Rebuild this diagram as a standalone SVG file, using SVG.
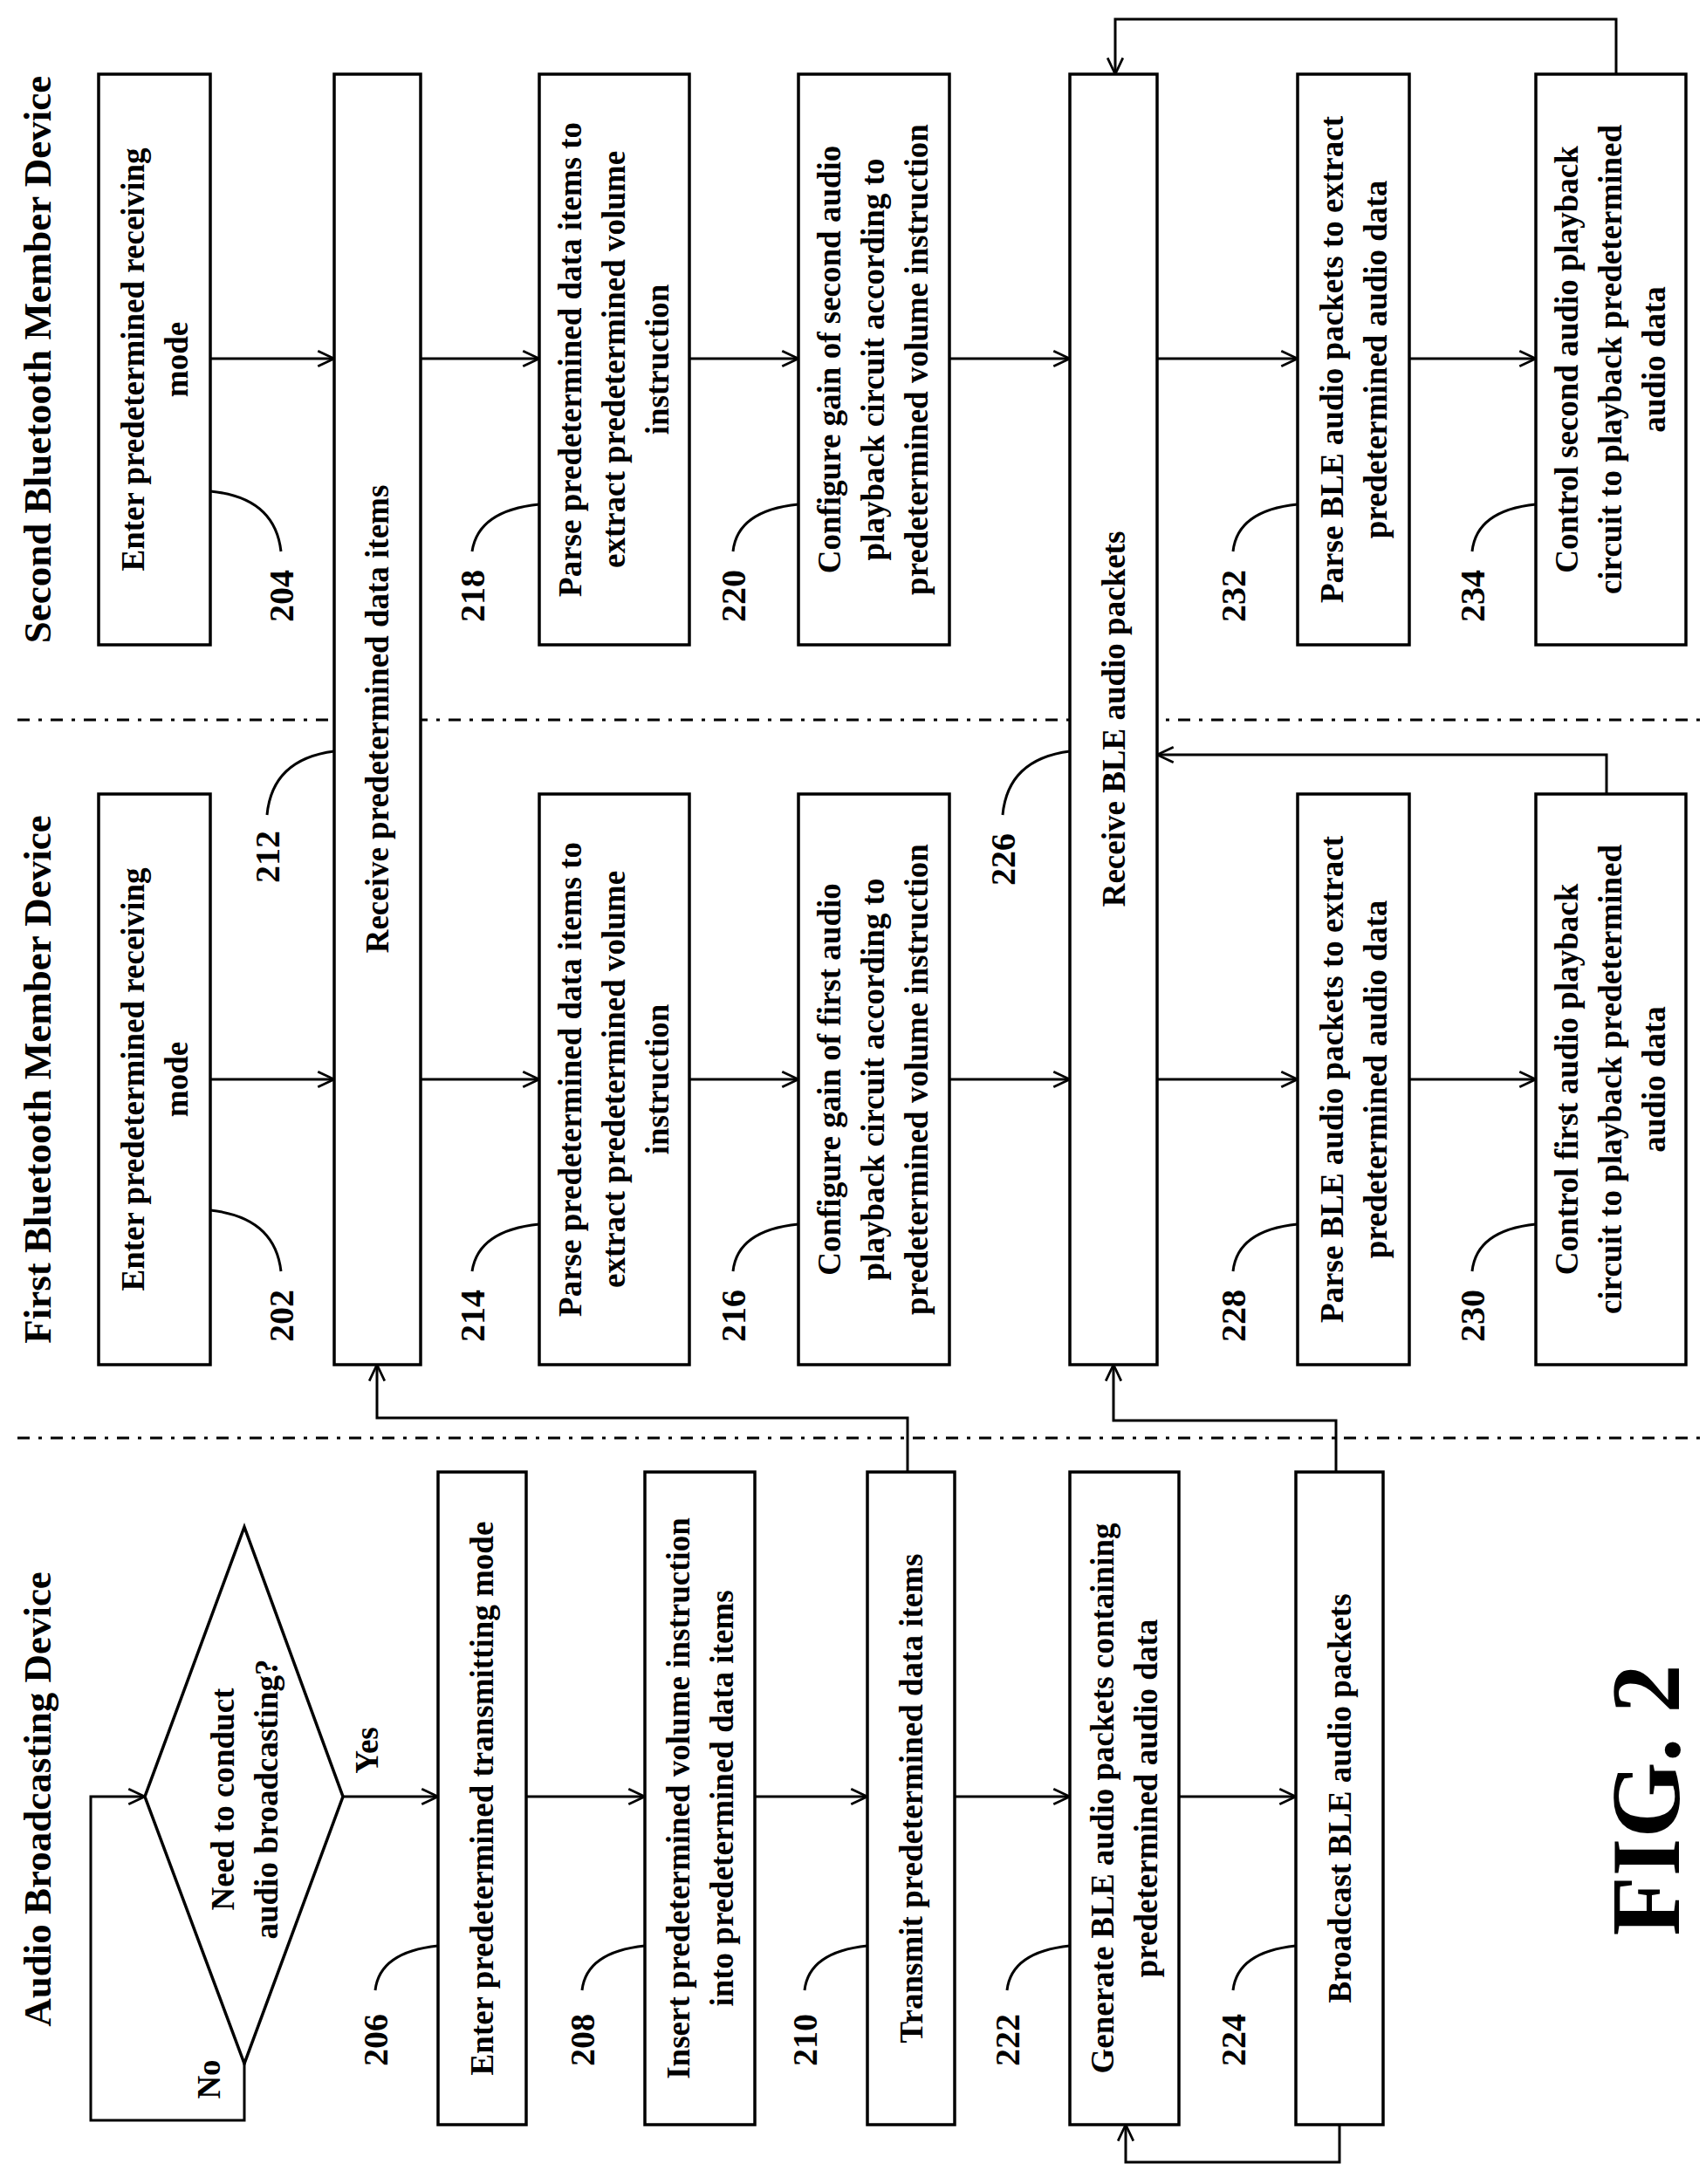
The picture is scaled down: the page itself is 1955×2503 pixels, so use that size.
<svg xmlns="http://www.w3.org/2000/svg" width="1955" height="2503" viewBox="0 0 1955 2503">
<defs>
<marker id="ah" viewBox="0 0 20 20" refX="19" refY="10" markerWidth="22" markerHeight="22" markerUnits="userSpaceOnUse" orient="auto"><path d="M2,2 L19,10 L2,18" fill="none" stroke="#000" stroke-width="2.5"/></marker>
</defs>
<style>
.b{fill:#fff;stroke:#000;stroke-width:3.5}
.t{font-family:"Liberation Serif",serif;font-weight:bold;font-size:37px;text-anchor:middle;fill:#000}
.h{font-family:"Liberation Serif",serif;font-weight:bold;font-size:45px;text-anchor:middle;fill:#000}
.l{font-family:"Liberation Serif",serif;font-weight:bold;font-size:40px;text-anchor:middle;fill:#000}
.c{fill:none;stroke:#000;stroke-width:3}
.a{fill:none;stroke:#000;stroke-width:3;marker-end:url(#ah)}
.s{fill:none;stroke:#000;stroke-width:3;stroke-dasharray:14 10 4 10}
</style>
<rect width="1955" height="2503" fill="#fff"/>
<g id="separators">
<line class="s" x1="20" y1="825" x2="1955" y2="825"/>
<line class="s" x1="20" y1="1648" x2="1955" y2="1648"/>
</g>
<g id="titles">
<text class="h" transform="translate(58,412) rotate(-90)">Second Bluetooth Member Device</text>
<text class="h" transform="translate(58,1237) rotate(-90)">First Bluetooth Member Device</text>
<text class="h" transform="translate(58,2062) rotate(-90)">Audio Broadcasting Device</text>
<text font-family="Liberation Serif,serif" font-weight="bold" font-size="112" text-anchor="middle" transform="translate(1924,2063) rotate(-90)">FIG. 2</text>
</g>
<g id="connectors">
<line class="a" x1="241" y1="411" x2="383" y2="411"/>
<line class="a" x1="482" y1="411" x2="618" y2="411"/>
<line class="a" x1="790" y1="411" x2="915" y2="411"/>
<line class="a" x1="1088" y1="411" x2="1226" y2="411"/>
<line class="a" x1="1326" y1="411" x2="1487" y2="411"/>
<line class="a" x1="1615" y1="411" x2="1760" y2="411"/>
<line class="a" x1="241" y1="1237" x2="383" y2="1237"/>
<line class="a" x1="482" y1="1237" x2="618" y2="1237"/>
<line class="a" x1="790" y1="1237" x2="915" y2="1237"/>
<line class="a" x1="1088" y1="1237" x2="1226" y2="1237"/>
<line class="a" x1="1326" y1="1237" x2="1487" y2="1237"/>
<line class="a" x1="1615" y1="1237" x2="1760" y2="1237"/>
<line class="a" x1="393" y1="2059" x2="502" y2="2059"/>
<line class="a" x1="603" y1="2059" x2="739" y2="2059"/>
<line class="a" x1="865" y1="2059" x2="994" y2="2059"/>
<line class="a" x1="1094" y1="2059" x2="1226" y2="2059"/>
<line class="a" x1="1351" y1="2059" x2="1485" y2="2059"/>
<path class="a" d="M280,2365 V2430 H104 V2059 H166"/>
<path class="a" d="M1040,1687 V1625 H432 V1564"/>
<path class="a" d="M1531,1687 V1628 H1276 V1564"/>
<path class="a" d="M1535,2435 V2478 H1290 V2435"/>
<path class="a" d="M1852,85 V22 H1278 V85"/>
<path class="a" d="M1841,910 V865 H1326"/>
</g>
<g id="labels">
<path class="c" d="M241,563 Q315,570 322,632"/><text class="l" transform="translate(336,683) rotate(-90)">204</text>
<path class="c" d="M618,578 Q548,585 541,632"/><text class="l" transform="translate(555,683) rotate(-90)">218</text>
<path class="c" d="M915,578 Q845,585 840,632"/><text class="l" transform="translate(854,683) rotate(-90)">220</text>
<path class="c" d="M1487,578 Q1418,585 1413,632"/><text class="l" transform="translate(1427,683) rotate(-90)">232</text>
<path class="c" d="M1760,578 Q1692,585 1687,632"/><text class="l" transform="translate(1701,683) rotate(-90)">234</text>
<path class="c" d="M241,1387 Q315,1395 322,1457"/><text class="l" transform="translate(336,1508) rotate(-90)">202</text>
<path class="c" d="M618,1403 Q548,1410 541,1457"/><text class="l" transform="translate(555,1508) rotate(-90)">214</text>
<path class="c" d="M915,1403 Q845,1410 840,1457"/><text class="l" transform="translate(854,1508) rotate(-90)">216</text>
<path class="c" d="M1487,1403 Q1418,1410 1413,1457"/><text class="l" transform="translate(1427,1508) rotate(-90)">228</text>
<path class="c" d="M1760,1403 Q1692,1410 1687,1457"/><text class="l" transform="translate(1701,1508) rotate(-90)">230</text>
<path class="c" d="M383,861 Q312,870 306,934"/><text class="l" transform="translate(320,982) rotate(-90)">212</text>
<path class="c" d="M1226,861 Q1155,870 1149,934"/><text class="l" transform="translate(1163,985) rotate(-90)">226</text>
<path class="c" d="M502,2230 Q435,2237 430,2281"/><text class="l" transform="translate(444,2338) rotate(-90)">206</text>
<path class="c" d="M739,2230 Q672,2237 667,2281"/><text class="l" transform="translate(681,2338) rotate(-90)">208</text>
<path class="c" d="M994,2230 Q927,2237 922,2281"/><text class="l" transform="translate(936,2338) rotate(-90)">210</text>
<path class="c" d="M1226,2230 Q1159,2237 1154,2281"/><text class="l" transform="translate(1168,2338) rotate(-90)">222</text>
<path class="c" d="M1485,2230 Q1418,2237 1413,2281"/><text class="l" transform="translate(1427,2338) rotate(-90)">224</text>
</g>
<g id="n204"><rect class="b" x="113" y="85" width="128" height="654"/><text class="t" transform="translate(177,412) rotate(-90)"><tspan x="0" dy="-12">Enter predetermined receiving</tspan><tspan x="0" dy="50">mode</tspan></text></g>
<g id="n218"><rect class="b" x="618" y="85" width="172" height="654"/><text class="t" transform="translate(704,412) rotate(-90)"><tspan x="0" dy="-38">Parse predetermined data items to</tspan><tspan x="0" dy="50">extract predetermined volume</tspan><tspan x="0" dy="50">instruction</tspan></text></g>
<g id="n220"><rect class="b" x="915" y="85" width="173" height="654"/><text class="t" transform="translate(1001,412) rotate(-90)"><tspan x="0" dy="-38">Configure gain of second audio</tspan><tspan x="0" dy="50">playback circuit according to</tspan><tspan x="0" dy="50">predetermined volume instruction</tspan></text></g>
<g id="n232"><rect class="b" x="1487" y="85" width="128" height="654"/><text class="t" transform="translate(1551,412) rotate(-90)"><tspan x="0" dy="-12">Parse BLE audio packets to extract</tspan><tspan x="0" dy="50">predetermined audio data</tspan></text></g>
<g id="n234"><rect class="b" x="1760" y="85" width="172" height="654"/><text class="t" transform="translate(1846,412) rotate(-90)"><tspan x="0" dy="-38">Control second audio playback</tspan><tspan x="0" dy="50">circuit to playback predetermined</tspan><tspan x="0" dy="50">audio data</tspan></text></g>
<g id="n212"><rect class="b" x="383" y="85" width="99" height="1479"/><text class="t" transform="translate(432,824) rotate(-90)" dy="13">Receive predetermined data items</text></g>
<g id="n226"><rect class="b" x="1226" y="85" width="100" height="1479"/><text class="t" transform="translate(1276,824) rotate(-90)" dy="13">Receive BLE audio packets</text></g>
<g id="n202"><rect class="b" x="113" y="910" width="128" height="654"/><text class="t" transform="translate(177,1237) rotate(-90)"><tspan x="0" dy="-12">Enter predetermined receiving</tspan><tspan x="0" dy="50">mode</tspan></text></g>
<g id="n214"><rect class="b" x="618" y="910" width="172" height="654"/><text class="t" transform="translate(704,1237) rotate(-90)"><tspan x="0" dy="-38">Parse predetermined data items to</tspan><tspan x="0" dy="50">extract predetermined volume</tspan><tspan x="0" dy="50">instruction</tspan></text></g>
<g id="n216"><rect class="b" x="915" y="910" width="173" height="654"/><text class="t" transform="translate(1001,1237) rotate(-90)"><tspan x="0" dy="-38">Configure gain of first audio</tspan><tspan x="0" dy="50">playback circuit according to</tspan><tspan x="0" dy="50">predetermined volume instruction</tspan></text></g>
<g id="n228"><rect class="b" x="1487" y="910" width="128" height="654"/><text class="t" transform="translate(1551,1237) rotate(-90)"><tspan x="0" dy="-12">Parse BLE audio packets to extract</tspan><tspan x="0" dy="50">predetermined audio data</tspan></text></g>
<g id="n230"><rect class="b" x="1760" y="910" width="172" height="654"/><text class="t" transform="translate(1846,1237) rotate(-90)"><tspan x="0" dy="-38">Control first audio playback</tspan><tspan x="0" dy="50">circuit to playback predetermined</tspan><tspan x="0" dy="50">audio data</tspan></text></g>
<g id="decision"><path class="b" d="M280,1750 L393,2059 L280,2365 L166,2059 Z"/><text class="t" transform="translate(280,2062) rotate(-90)"><tspan x="0" dy="-12">Need to conduct</tspan><tspan x="0" dy="50">audio broadcasting?</tspan></text>
<text class="t" transform="translate(420,2006) rotate(-90)" dy="13">Yes</text><text class="t" transform="translate(239,2383) rotate(-90)" dy="13">No</text></g>
<g id="n206"><rect class="b" x="502" y="1687" width="101" height="748"/><text class="t" transform="translate(552,2061) rotate(-90)" dy="13">Enter predetermined transmitting mode</text></g>
<g id="n208"><rect class="b" x="739" y="1687" width="126" height="748"/><text class="t" transform="translate(802,2061) rotate(-90)"><tspan x="0" dy="-12">Insert predetermined volume instruction</tspan><tspan x="0" dy="50">into predetermined data items</tspan></text></g>
<g id="n210"><rect class="b" x="994" y="1687" width="100" height="748"/><text class="t" transform="translate(1044,2061) rotate(-90)" dy="13">Transmit predetermined data items</text></g>
<g id="n222"><rect class="b" x="1226" y="1687" width="125" height="748"/><text class="t" transform="translate(1288,2061) rotate(-90)"><tspan x="0" dy="-12">Generate BLE audio packets containing</tspan><tspan x="0" dy="50">predetermined audio data</tspan></text></g>
<g id="n224"><rect class="b" x="1485" y="1687" width="100" height="748"/><text class="t" transform="translate(1535,2061) rotate(-90)" dy="13">Broadcast BLE audio packets</text></g>
</svg>
